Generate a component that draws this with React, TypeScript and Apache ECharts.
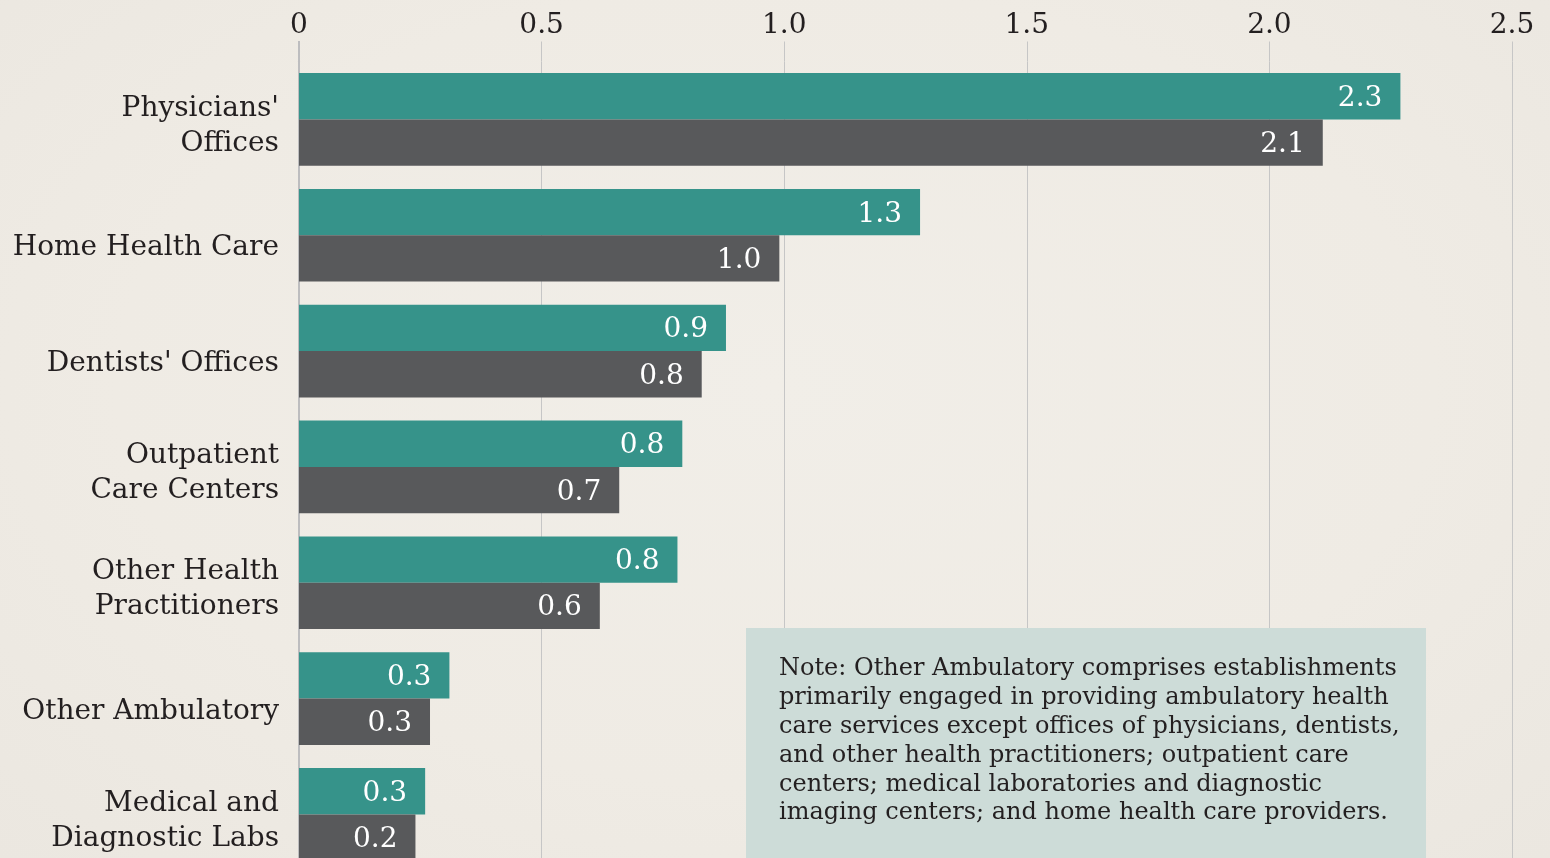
import React, { useEffect, useRef } from "react";
import * as echarts from "echarts";

const categories = [
  "Physicians'\nOffices",
  "Home Health Care",
  "Dentists' Offices",
  "Outpatient\nCare Centers",
  "Other Health\nPractitioners",
  "Other Ambulatory",
  "Medical and\nDiagnostic Labs",
];
const tealValues = [2.27, 1.28, 0.88, 0.79, 0.78, 0.31, 0.26];
const grayValues = [2.11, 0.99, 0.83, 0.66, 0.62, 0.27, 0.24];
const xTickValues = [0, 0.5, 1.0, 1.5, 2.0, 2.5];
const xTickLabels = ["0", "0.5", "1.0", "1.5", "2.0", "2.5"];
const noteText =
  "Note: Other Ambulatory comprises establishments\nprimarily engaged in providing ambulatory health\ncare services except offices of physicians, dentists,\nand other health practitioners; outpatient care\ncenters; medical laboratories and diagnostic\nimaging centers; and home health care providers.";

const FONT = "'DejaVu Serif', serif";
const TEXT = "#231f20";
const CHART_H = 880;

export default function App() {
  const ref = useRef<HTMLDivElement>(null);
  useEffect(() => {
    if (!ref.current) return;
    const chart = echarts.init(ref.current, null, { renderer: "svg" });
    const labelFmt = (p: any) => Number(p.value).toFixed(1);
    const catStyle = (pad: number) => ({
      fontSize: 28,
      lineHeight: 35,
      fontFamily: FONT,
      color: TEXT,
      align: "right",
      padding: [pad, 0, 0, 0],
    });
    chart.setOption({
      animation: false,
      backgroundColor: "transparent",
      textStyle: { fontFamily: FONT },
      grid: { left: 299, right: 38, top: 61.5, bottom: CHART_H - 872.3, containLabel: false },
      xAxis: {
        type: "value",
        position: "top",
        min: 0,
        max: 2.5,
        interval: 0.5,
        axisLine: { show: false },
        axisTick: { show: true, length: 20, lineStyle: { color: "#c6c6c6", width: 1 } },
        splitLine: { show: true, lineStyle: { color: "#c6c6c6", width: 1 } },
        axisLabel: {
          margin: 24,
          fontSize: 28,
          color: TEXT,
          fontFamily: FONT,
          formatter: (v: number) => {
            const i = xTickValues.findIndex((t) => Math.abs(t - v) < 1e-9);
            return i >= 0 ? xTickLabels[i] : "";
          },
        },
      },
      yAxis: {
        type: "category",
        data: categories,
        inverse: true,
        axisLine: { show: true, lineStyle: { color: "#bdbdbf", width: 2 } },
        axisTick: { show: false },
        axisLabel: {
          margin: 20,
          fontSize: 28,
          lineHeight: 35,
          color: TEXT,
          fontFamily: FONT,
          align: "right",
          formatter: (v: string) =>
            v.includes("\n")
              ? v.split("\n").map((l) => `{m|${l}}`).join("\n")
              : `{s|${v}}`,
          rich: { s: catStyle(21), m: catStyle(9) },
        },
      },
      series: [
        {
          name: "Teal",
          type: "bar",
          data: tealValues,
          barGap: "0%",
          barCategoryGap: "20%",
          itemStyle: { color: "#36938a" },
          label: {
            show: true,
            position: "insideRight",
            distance: 18,
            color: "#ffffff",
            fontSize: 28,
            fontFamily: FONT,
            formatter: labelFmt,
          },
        },
        {
          name: "Gray",
          type: "bar",
          data: grayValues,
          barGap: "0%",
          barCategoryGap: "20%",
          itemStyle: { color: "#58595b" },
          label: {
            show: true,
            position: "insideRight",
            distance: 18,
            color: "#ffffff",
            fontSize: 28,
            fontFamily: FONT,
            formatter: labelFmt,
          },
        },
      ],
      graphic: [
        {
          type: "line",
          shape: { x1: 299, y1: 41, x2: 299, y2: 62 },
          style: { stroke: "#bdbdbf", lineWidth: 2 },
          z: 10,
        },
        {
          type: "rect",
          shape: { x: 746, y: 628, width: 680, height: 260 },
          style: { fill: "#cddcd8" },
          z: 20,
        },
        {
          type: "text",
          x: 779,
          y: 653,
          z: 21,
          style: {
            text: noteText,
            fill: TEXT,
            font: `24px ${FONT}`,
            lineHeight: 28.8,
            textVerticalAlign: "top",
          },
        },
      ],
    });
    return () => chart.dispose();
  }, []);
  return (
    <div
      style={{
        position: "fixed",
        left: 0,
        top: 0,
        width: 1550,
        height: 858,
        overflow: "hidden",
        background: "radial-gradient(ellipse at 50% 45%, #f1eee8 0%, #efebe4 60%, #ebe7e0 100%)",
      }}
    >
      <div ref={ref} style={{ width: 1550, height: CHART_H }} />
    </div>
  );
}
